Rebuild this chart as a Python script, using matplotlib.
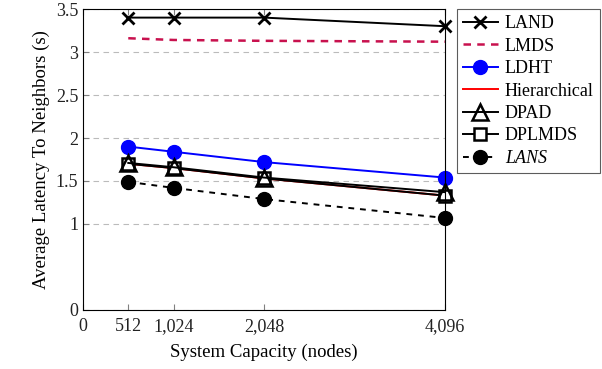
import matplotlib
matplotlib.use("Agg")
import matplotlib.pyplot as plt

plt.rcParams['font.family'] = ['Liberation Serif', 'DejaVu Serif']

# data
capacity = [512, 1024, 2048, 4096]
land = [3.40, 3.40, 3.40, 3.30]
lmds = [3.16, 3.14, 3.13, 3.12]
ldht = [1.90, 1.84, 1.72, 1.54]
hierarchical = [1.70, 1.65, 1.53, 1.33]
dpad = [1.71, 1.66, 1.54, 1.37]
dplmds = [1.70, 1.65, 1.53, 1.33]
lans = [1.49, 1.42, 1.29, 1.07]

xticks = [0, 512, 1024, 2048, 4096]
xlabels = ['0', '512', '1,024', '2,048', '4,096']
yticks = [0, 1, 1.5, 2, 2.5, 3, 3.5]
ylabels = ['0', '1', '1.5', '2', '2.5', '3', '3.5']

fig = plt.figure(figsize=(6.02, 3.69), dpi=100)
ax = fig.add_axes([0.1379, 0.1599, 0.6013, 0.8157])

kw = dict(lw=1.4, clip_on=False)
ax.plot(capacity, land, color='black', marker='x', ms=9, mew=2, label='LAND', **kw)
ax.plot(capacity, lmds, color='#c8114e', ls=(0, (3, 2.5)), lw=1.8, clip_on=False, label='LMDS')
ax.plot(capacity, ldht, color='blue', marker='o', ms=10, label='LDHT', **kw)
ax.plot(capacity, hierarchical, color='red', label='Hierarchical', **kw)
ax.plot(capacity, dplmds, color='black', marker='s', ms=8, mfc='white', mew=1.8, label='DPLMDS', **kw)
ax.plot(capacity, dpad, color='black', marker='^', ms=11, mfc='none', mew=1.8, label='DPAD', **kw)
ax.plot(capacity, lans, color='black', ls=(0, (3, 3)), marker='o', ms=10, label='LANS', **kw)

ax.set_xlim(0, 4096)
ax.set_ylim(0, 3.5)
ax.set_xticks(xticks)
ax.set_xticklabels(xlabels)
ax.set_yticks(yticks)
ax.set_yticklabels(ylabels)
ax.tick_params(direction='in', top=True, right=False, labelsize=13, color='#808080',
               length=4, labelcolor='#222222')
ax.tick_params(axis='x', pad=6)
ax.yaxis.grid(True, ls=(0, (5, 4)), color='#bbbbbb', lw=0.8)
ax.set_axisbelow(True)

ax.set_xlabel('System Capacity (nodes)', fontsize=13.5, labelpad=6)
ax.set_ylabel('Average Latency To Neighbors (s)', fontsize=13.5)

handles, labels = ax.get_legend_handles_labels()
order = [0, 1, 2, 3, 5, 4, 6]
leg = ax.legend([handles[i] for i in order], [labels[i] for i in order],
                loc='upper left', bbox_to_anchor=(1.033, 1.0), fontsize=13, frameon=True,
                fancybox=False, edgecolor='#333333', handlelength=1.9, borderaxespad=0,
                labelspacing=0.3, handletextpad=0.4, borderpad=0.35)
leg.get_frame().set_linewidth(0.8)
leg.get_texts()[-1].set_fontstyle('italic')

fig.savefig('out.png', dpi=100)
